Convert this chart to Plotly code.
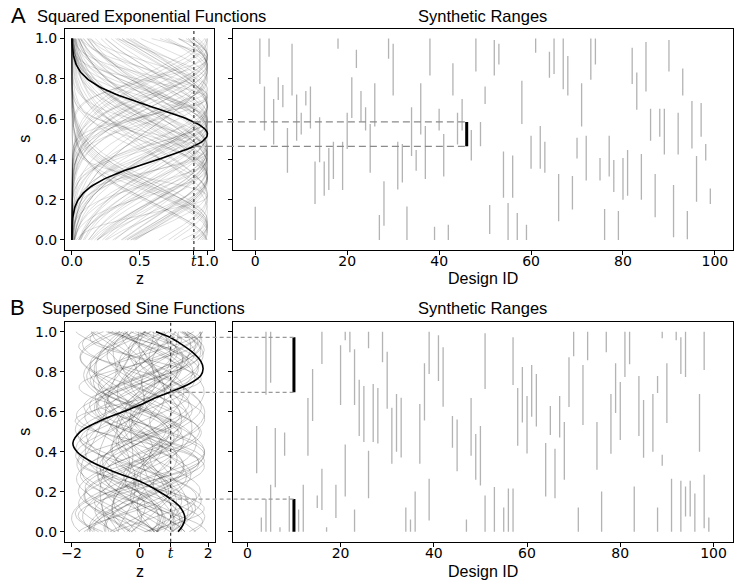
import numpy as np
import plotly.graph_objects as go

# ---------------- data ----------------
t_value = 0.9

# Panel A: one synthetic range per design (squared exponential functions)
a_lo = [0.0, 0.775, 0.543, 0.91, 0.474, 0.695, 0.659, 0.334, 0.717, 0.493,
        0.523, 0.667, 0.553, 0.179, 0.386, 0.220, 0.248, 0.303, 0.950, 0.248,
        0.452, 0.606, 0.854, 0.589, 0.543, 0.334, 0.563, 0.0, 0.071, 0.90,
        0.717, 0.250, 0.285, 0.0, 0.417, 0.344, 0.523, 0.303, 0.816, 0.0,
        0.543, 0.315, 0.0, 0.717, 0.474, 0.543, 0.465, 0.394, 0.836, 0.465,
        0.675, 0.030, 0.816, 0.871, 0.209, 0.0, 0.209, 0.0, 0.576, 0.0,
        0.353, 0.930, 0.354, 0.334, 0.805, 0.824, 0.093, 0.748, 0.717, 0.151,
        0.404, 0.563, 0.295, 0.795, 0.871, 0.295, 0.0, 0.315, 0.238, 0.0,
        0.199, 0.219, 0.775, 0.646, 0.199, 0.737, 0.493, 0.113, 0.513, 0.424,
        0.836, 0.013, 0.424, 0.717, 0.003, 0.454, 0.190, 0.513, 0.394, 0.179]
a_hi = [0.165, 1.0, 0.762, 1.0, 0.700, 0.808, 0.770, 0.556, 0.974, 0.722,
        0.631, 0.740, 0.762, 0.389, 0.609, 0.389, 0.457, 0.488, 1.0, 0.488,
        0.631, 0.808, 0.944, 0.740, 0.659, 0.576, 0.778, 0.124, 0.291, 1.0,
        0.974, 0.488, 0.477, 0.166, 0.659, 0.447, 0.778, 0.566, 1.0, 0.066,
        0.651, 0.526, 0.075, 0.877, 0.631, 0.700, 0.586, 0.546, 1.0, 0.586,
        0.762, 0.174, 0.993, 0.974, 0.439, 0.184, 0.419, 0.134, 0.791, 0.075,
        0.517, 1.0, 0.566, 0.488, 0.934, 1.0, 0.328, 1.0, 0.914, 0.318,
        0.507, 0.778, 0.517, 1.0, 1.0, 0.407, 0.154, 0.517, 0.397, 0.144,
        0.407, 0.447, 0.954, 0.831, 0.427, 0.983, 0.651, 0.328, 0.651, 0.651,
        0.993, 0.273, 0.631, 0.851, 0.144, 0.690, 0.417, 0.680, 0.477, 0.255]
a_highlight = 46

# Panel B: synthetic ranges (a design may have several)
b_ids = [2, 3, 4, 4, 5, 5, 6, 7, 8, 9, 10, 10, 11, 12, 13, 14, 15, 16, 16, 17,
         19, 20, 21, 21, 22, 23, 23, 24, 25, 26, 26, 27, 28, 29, 30, 31, 32, 33,
         34, 35, 36, 37, 38, 39, 39, 41, 42, 44, 45, 47, 48, 49, 50, 51, 51, 53,
         55, 56, 57, 57, 58, 59, 60, 61, 62, 64, 65, 66, 67, 68, 69, 70, 71, 72,
         73, 75, 76, 77, 78, 79, 80, 81, 82, 83, 84, 85, 87, 88, 88, 89, 89, 90,
         91, 92, 93, 93, 94, 94, 95, 96, 97, 98, 98, 99]
b_lo = [0.292, 0.0, 0.685, 0.0, 0.745, 0.0, 0.222, 0.0, 0.380, 0.0, 0.697, 0.0,
        0.0, 0.0, 0.380, 0.554, 0.118, 0.839, 0.108, 0.0,
        0.068, 0.634, 0.957, 0.176, 0.897, 0.634, 0.0, 0.479, 0.449, 0.917, 0.167,
        0.449, 0.441, 0.847, 0.615, 0.340, 0.400, 0.371,
        0.0, 0.0, 0.0, 0.340, 0.556, 0.789, 0.056, 0.753, 0.625, 0.420, 0.302,
        0.0, 0.380, 0.260, 0.231, 0.713, 0.0, 0.0,
        0.0, 0.0, 0.733, 0.0, 0.430, 0.546, 0.391, 0.575, 0.526, 0.176, 0.483,
        0.167, 0.471, 0.260, 0.624, 0.877, 0.0, 0.534,
        0.857, 0.310, 0.0, 0.897, 0.390, 0.594, 0.459, 0.773, 0.837, 0.0, 0.479,
        0.370, 0.400, 0.693, 0.0, 0.967, 0.330, 0.544,
        0.0, 0.957, 0.788, 0.0, 0.773, 0.076, 0.076, 0.0, 0.400, 0.808, 0.017, 0.0]
b_hi = [0.529, 0.071, 1.0, 0.163, 1.0, 0.235, 0.519, 0.022, 0.496, 0.179, 0.972, 0.163,
        0.111, 0.235, 0.668, 0.814, 0.181, 1.0, 0.315, 0.022,
        0.235, 0.932, 1.0, 0.436, 1.0, 0.912, 0.111, 0.760, 0.728, 1.0, 0.405,
        0.738, 0.718, 1.0, 0.900, 0.620, 0.688, 0.670,
        0.121, 0.061, 0.201, 0.638, 0.842, 1.0, 0.265, 0.982, 0.922, 0.579, 0.561,
        0.061, 0.668, 0.488, 0.529, 0.992, 0.181, 0.224,
        0.121, 0.216, 0.972, 0.216, 0.718, 0.823, 0.678, 0.833, 0.788, 0.444, 0.628,
        0.415, 0.678, 0.549, 0.872, 1.0, 0.121, 0.833,
        1.0, 0.549, 0.201, 1.0, 0.688, 0.842, 0.748, 1.0, 1.0, 0.226, 0.778,
        0.658, 0.688, 0.778, 0.121, 1.0, 0.385, 0.842,
        0.265, 1.0, 0.972, 0.255, 1.0, 0.226, 0.255, 0.191, 0.688, 1.0, 0.285, 0.071]
b_highlight = 10

# highlighted superposed-sine function of design 10
b_curve_s = [0.0, 0.03, 0.068, 0.12, 0.163, 0.2, 0.252, 0.3, 0.35, 0.4, 0.443,
             0.5, 0.55, 0.6, 0.633, 0.667, 0.7, 0.74, 0.78, 0.815, 0.85, 0.9,
             0.95, 0.972, 1.0]
b_curve_z = [1.12, 1.25, 1.32, 1.19, 0.91, 0.57, 0.0, -0.76, -1.42, -1.84, -1.96,
             -1.74, -1.22, -0.49, 0.0, 0.42, 0.91, 1.45, 1.78, 1.85, 1.79, 1.52,
             1.1, 0.88, 0.47]

# background superposed sine functions: z = a sin(2 pi f s + p) + b sin(2 pi g s + q)
sin_a = [1.2, 0.8, 1.5, 1.0, 0.6, 1.3, 0.9, 1.7, 1.1, 0.7, 1.4, 1.0, 0.5, 1.6, 1.2,
         0.9, 1.3, 0.8, 1.5, 1.1, 0.7, 1.8, 1.0, 1.2, 0.6, 1.4, 0.9, 1.3, 1.1, 0.8,
         1.6, 1.0, 1.2, 0.7, 1.5, 0.9, 1.3, 1.1, 0.6, 1.4, 1.0, 1.7, 0.8, 1.2, 1.5,
         0.9, 1.1, 1.3, 0.7, 1.0, 1.4, 0.9, 1.2, 1.6, 0.8, 1.1, 1.3, 1.0, 1.5, 0.7]
sin_f = [1.3, 2.1, 0.9, 1.7, 2.2, 1.1, 1.9, 0.8, 1.5, 2.0, 1.2, 1.8, 2.3, 1.0, 1.6,
         2.2, 1.4, 2.0, 0.9, 1.7, 2.1, 1.1, 1.5, 1.9, 2.4, 1.3, 2.1, 1.0, 1.6, 2.0,
         0.9, 1.8, 1.4, 2.2, 1.2, 2.0, 1.5, 1.1, 2.3, 1.3, 1.9, 1.0, 2.2, 1.6, 1.2,
         2.1, 1.7, 1.4, 2.0, 1.8, 1.25, 1.65, 0.95, 1.45, 1.85, 1.15, 1.55, 2.05, 1.35, 1.75]
sin_p = [0.3, 2.1, 4.0, 1.2, 5.5, 3.3, 0.8, 2.7, 4.9, 1.6, 6.0, 0.1, 3.8, 2.4, 5.1,
         1.0, 4.4, 2.9, 0.5, 3.6, 5.8, 1.9, 4.6, 0.7, 2.2, 5.3, 3.1, 1.4, 4.2, 6.2,
         2.6, 0.4, 3.9, 5.0, 1.7, 4.8, 0.9, 2.8, 5.6, 3.4, 1.1, 4.3, 6.1, 2.0, 0.2,
         3.7, 5.2, 1.5, 4.1, 2.5, 0.6, 3.0, 5.4, 1.8, 4.5, 2.3, 0.0, 3.5, 5.9, 1.3]
sin_b = [0.6, 1.0, 0.4, 0.8, 1.2, 0.5, 0.9, 0.3, 0.7, 1.1, 0.5, 0.8, 1.3, 0.3, 0.6,
         0.9, 0.6, 1.0, 0.4, 0.8, 1.1, 0.2, 0.9, 0.7, 1.3, 0.5, 1.0, 0.6, 0.8, 1.0,
         0.4, 0.9, 0.7, 1.2, 0.4, 1.0, 0.6, 0.8, 1.3, 0.5, 0.9, 0.3, 1.1, 0.7, 0.5,
         1.0, 0.8, 0.6, 1.2, 0.9, 0.5, 1.0, 0.7, 0.4, 1.1, 0.8, 0.6, 0.9, 0.4, 1.2]
sin_g = [2.1, 0.7, 1.6, 2.4, 0.5, 1.9, 0.6, 2.3, 1.2, 0.8, 2.3, 1.5, 0.4, 2.0, 1.8,
         0.7, 2.5, 0.6, 1.4, 2.2, 0.9, 1.7, 2.6, 0.5, 1.3, 2.4, 0.8, 1.9, 2.1, 0.6,
         1.5, 2.4, 0.7, 1.2, 2.0, 0.5, 2.3, 1.6, 0.9, 2.5, 0.6, 1.8, 2.2, 0.4, 1.4,
         2.5, 0.8, 1.7, 2.6, 0.5, 2.0, 0.7, 1.5, 2.4, 0.6, 1.9, 2.2, 0.8, 2.5, 0.5]
sin_q = [1.8, 4.5, 0.6, 3.2, 5.9, 2.3, 4.8, 1.1, 3.7, 0.2, 5.4, 2.6, 4.1, 0.9, 3.0,
         5.7, 1.5, 4.3, 2.0, 6.1, 0.7, 3.5, 5.2, 1.3, 4.6, 2.8, 0.4, 5.0, 3.3, 1.7,
         4.0, 6.0, 2.1, 0.8, 5.5, 3.6, 1.2, 4.7, 2.4, 0.5, 5.8, 3.9, 1.6, 4.4, 2.7,
         0.1, 5.3, 3.1, 1.9, 4.9, 2.9, 0.3, 4.2, 1.4, 5.6, 3.8, 0.9, 4.4, 2.2, 6.0]

a_xticks = [0.0, 0.5, t_value, 1.0]
a_xticktext = ["0.0", "0.5", '<span style="font-family:DejaVu Serif"><i>t</i></span>', "1.0"]
b_xticks = [-2, 0, t_value, 2]
b_xticktext = ["\u22122", "0", '<span style="font-family:DejaVu Serif"><i>t</i></span>', "2"]
s_ticks = [0.0, 0.2, 0.4, 0.6, 0.8, 1.0]
id_ticks = [0, 20, 40, 60, 80, 100]

# ---------------- layout geometry ----------------
W, H = 744, 586
def px(x):
    return x / W
def py(y):
    return 1 - y / H

dom_A_left_x = [px(61.7), px(212.5)]
dom_A_right_x = [px(231.0), px(737.0)]
dom_B_left_x = [px(61.7), px(213.0)]
dom_B_right_x = [px(231.7), px(737.0)]
dom_A_y = [py(250.0), py(28.5)]
dom_B_y = [py(541.7), py(321.7)]

rng_s = [-0.05, 1.05]
rng_A_left = [-0.05, 1.05]
rng_A_right = [-4.95, 103.95]
rng_B_left = [-2.19, 2.19]
rng_B_right = [-3.03, 104.2]

def to_paper(v, rng, dom):
    return dom[0] + (v - rng[0]) / (rng[1] - rng[0]) * (dom[1] - dom[0])

fig = go.Figure()
s_grid = np.linspace(0, 1, 160)
k = np.sqrt(2 * np.log(1 / t_value))

# ---- Panel A left: squared exponential functions ----
def se_params(lo, hi):
    if lo <= 0.001:
        h = 0.09
        c = hi - h
    elif hi >= 0.999:
        h = 0.09
        c = lo + h
    else:
        c = (lo + hi) / 2
        h = (hi - lo) / 2
    return c, h / k

for i, (lo, hi) in enumerate(zip(a_lo, a_hi)):
    if i == a_highlight:
        continue
    c, w = se_params(lo, hi)
    z = np.exp(-(s_grid - c) ** 2 / (2 * w ** 2))
    fig.add_trace(go.Scatter(x=z, y=s_grid, mode="lines", xaxis="x", yaxis="y",
                             line=dict(color="black", width=1), opacity=0.12,
                             hoverinfo="skip"))
c, w = se_params(a_lo[a_highlight], a_hi[a_highlight])
fig.add_trace(go.Scatter(x=np.exp(-(s_grid - c) ** 2 / (2 * w ** 2)), y=s_grid,
                         mode="lines", xaxis="x", yaxis="y",
                         line=dict(color="black", width=1.6)))

# ---- Panel A right: synthetic ranges ----
xs, ys = [], []
for i, (lo, hi) in enumerate(zip(a_lo, a_hi)):
    xs += [i, i, None]
    ys += [lo, hi, None]
fig.add_trace(go.Scatter(x=xs, y=ys, mode="lines", xaxis="x2", yaxis="y2",
                         line=dict(color="#b3b3b3", width=1.3)))
fig.add_trace(go.Scatter(x=[a_highlight, a_highlight],
                         y=[a_lo[a_highlight], a_hi[a_highlight]],
                         mode="lines", xaxis="x2", yaxis="y2",
                         line=dict(color="black", width=3)))

# ---- Panel B left: superposed sine functions ----
for a, f, p, b, g, q in zip(sin_a, sin_f, sin_p, sin_b, sin_g, sin_q):
    z = a * np.sin(2 * np.pi * f * s_grid + p) + b * np.sin(2 * np.pi * g * s_grid + q)
    fig.add_trace(go.Scatter(x=z, y=s_grid, mode="lines", xaxis="x3", yaxis="y3",
                             line=dict(color="black", width=1), opacity=0.2,
                             hoverinfo="skip"))
fig.add_trace(go.Scatter(x=b_curve_z, y=b_curve_s, mode="lines", xaxis="x3", yaxis="y3",
                         line=dict(color="black", width=1.6, shape="spline", smoothing=1.0)))

# ---- Panel B right ----
xs, ys = [], []
hx, hy = [], []
for i, lo, hi in zip(b_ids, b_lo, b_hi):
    if i == b_highlight:
        hx += [i, i, None]
        hy += [lo, hi, None]
    else:
        xs += [i, i, None]
        ys += [lo, hi, None]
fig.add_trace(go.Scatter(x=xs, y=ys, mode="lines", xaxis="x4", yaxis="y4",
                         line=dict(color="#b3b3b3", width=1.3)))
fig.add_trace(go.Scatter(x=hx, y=hy, mode="lines", xaxis="x4", yaxis="y4",
                         line=dict(color="black", width=3)))

# ---- shapes: threshold lines & connectors ----
shapes = []
shapes.append(dict(type="line", xref="x", yref="y domain", x0=t_value, x1=t_value, y0=0, y1=1,
                   line=dict(color="#404040", width=1.3, dash="dot")))
shapes.append(dict(type="line", xref="x3", yref="y3 domain", x0=t_value, x1=t_value, y0=0, y1=1,
                   line=dict(color="#404040", width=1.3, dash="dot")))
xa0 = to_paper(t_value, rng_A_left, dom_A_left_x)
xa1 = to_paper(a_highlight, rng_A_right, dom_A_right_x)
for v in (a_lo[a_highlight], a_hi[a_highlight]):
    shapes.append(dict(type="line", xref="paper", yref="y", x0=xa0, x1=xa1, y0=v, y1=v,
                       line=dict(color="#8a8a8a", width=1.2, dash="7px,4px")))
xb0 = to_paper(t_value, rng_B_left, dom_B_left_x)
xb1 = to_paper(b_highlight, rng_B_right, dom_B_right_x)
for i, lo, hi in zip(b_ids, b_lo, b_hi):
    if i != b_highlight:
        continue
    for v in (lo, hi):
        if 0.001 < v < 0.999:
            shapes.append(dict(type="line", xref="paper", yref="y3", x0=xb0, x1=xb1, y0=v, y1=v,
                               line=dict(color="#999999", width=1.2, dash="4px,3px")))

# ---- axes ----
tick_font = dict(family="DejaVu Sans", size=14, color="black")
def axis(dom, rng, anchor, **kw):
    d = dict(domain=dom, range=rng, anchor=anchor, showline=True, mirror=True,
             linecolor="black", linewidth=1, ticks="outside", ticklen=4, tickwidth=1,
             tickcolor="black", showgrid=False, zeroline=False, tickfont=tick_font,
             fixedrange=True, tickangle=0)
    d.update(kw)
    return d

fig.update_layout(
    width=W, height=H, margin=dict(l=0, r=0, t=0, b=0),
    paper_bgcolor="white", plot_bgcolor="white", showlegend=False,
    shapes=shapes,
    xaxis=axis(dom_A_left_x, rng_A_left, "y", tickvals=a_xticks, ticktext=a_xticktext,
               ticklabelstandoff=-6),
    yaxis=axis(dom_A_y, rng_s, "x", tickvals=s_ticks, tickformat=".1f"),
    xaxis2=axis(dom_A_right_x, rng_A_right, "y2", tickvals=id_ticks, ticklabelstandoff=-6),
    yaxis2=axis(dom_A_y, rng_s, "x2", tickvals=s_ticks, showticklabels=False),
    xaxis3=axis(dom_B_left_x, rng_B_left, "y3", tickvals=b_xticks, ticktext=b_xticktext,
                ticklabelstandoff=-6),
    yaxis3=axis(dom_B_y, rng_s, "x3", tickvals=s_ticks, tickformat=".1f"),
    xaxis4=axis(dom_B_right_x, rng_B_right, "y4", tickvals=id_ticks, ticklabelstandoff=-6),
    yaxis4=axis(dom_B_y, rng_s, "x4", tickvals=s_ticks, showticklabels=False),
)

lab_font = dict(family="Liberation Sans", size=16, color="black")
title_font = dict(family="Liberation Sans", size=16.5, color="black")
letter_font = dict(family="Liberation Sans", size=22, color="black")
ann = []
def text(x, y, s, font, xanchor="center", angle=0):
    ann.append(dict(x=px(x), y=py(y), xref="paper", yref="paper", text=s, showarrow=False,
                    font=font, xanchor=xanchor, yanchor="middle", textangle=angle))

text(5, 15, "A", letter_font, xanchor="left")
text(31, 15.5, "Squared Exponential Functions", title_font, xanchor="left")
text(484, 15.5, "Synthetic Ranges", title_font)
text(137, 278, "z", lab_font)
text(484, 278, "Design ID", lab_font)
text(20, 139, "s", lab_font, angle=-90)

text(4, 307.5, "B", letter_font, xanchor="left")
text(36, 308, "Superposed Sine Functions", title_font, xanchor="left")
text(484, 308, "Synthetic Ranges", title_font)
text(137.5, 571, "z", lab_font)
text(484, 571, "Design ID", lab_font)
text(20, 432, "s", lab_font, angle=-90)
fig.update_layout(annotations=ann)

fig.write_html("out.html")
